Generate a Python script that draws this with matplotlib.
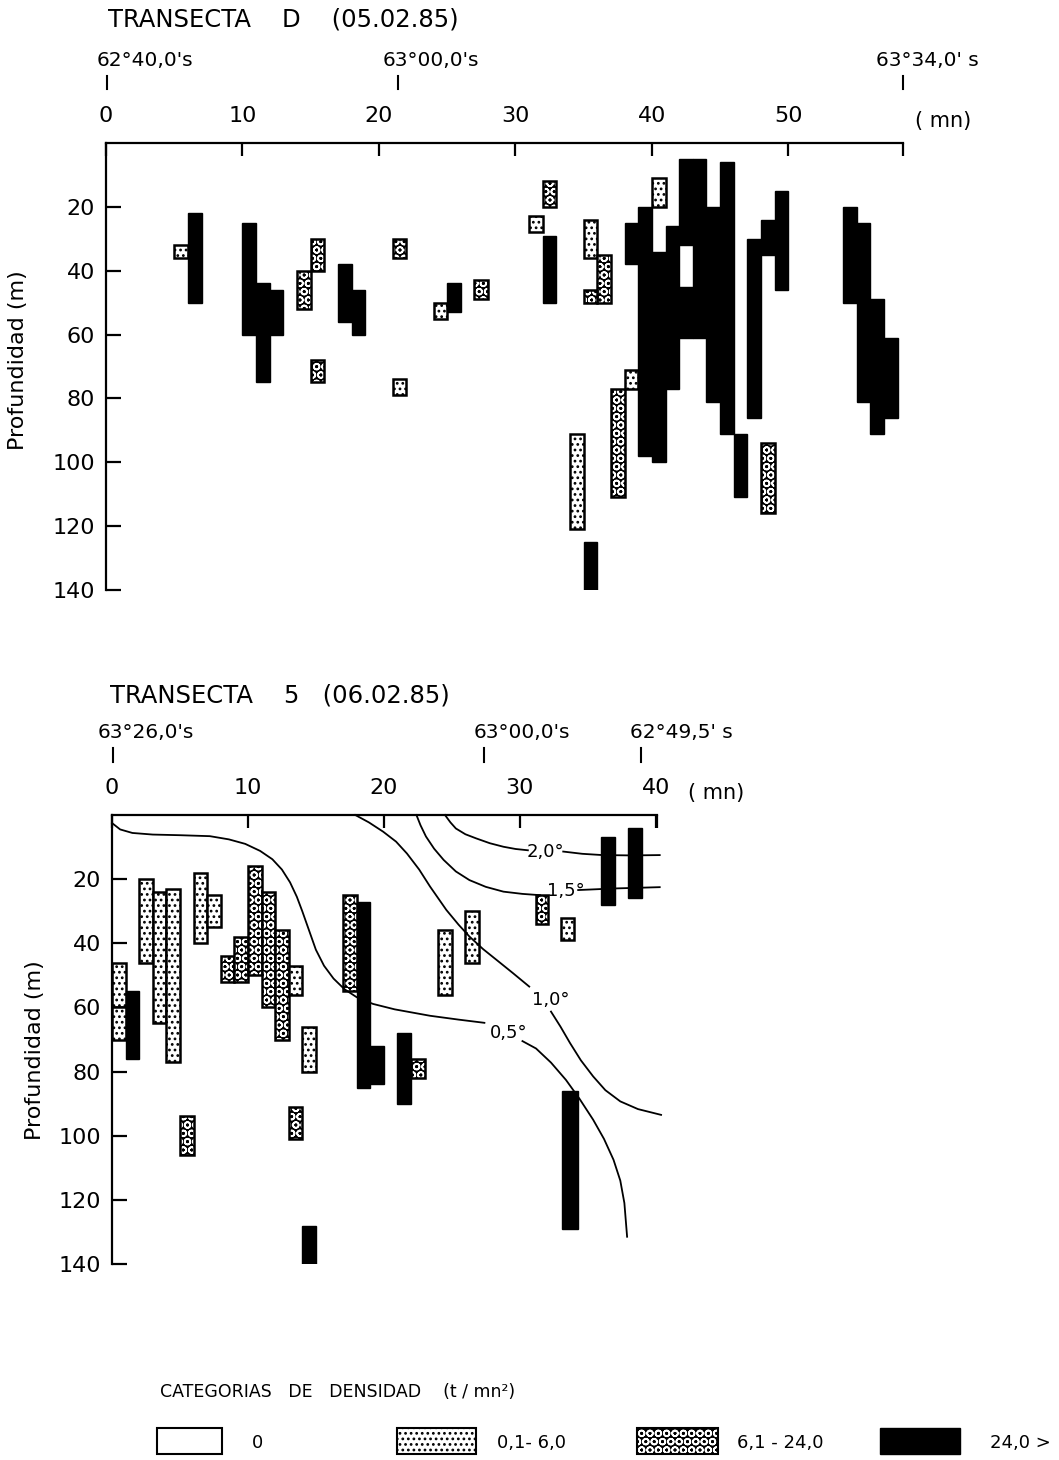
import matplotlib
matplotlib.use("Agg")
import matplotlib.pyplot as plt
import matplotlib.transforms as mtransforms
from matplotlib.patches import Rectangle

plt.rcParams["font.family"] = ["DejaVu Sans"]
plt.rcParams["hatch.linewidth"] = 1.2

W, H = 1059, 1460

# density categories: 0 -> "0", 1 -> "0,1-6,0", 2 -> "6,1-24,0", 3 -> "24,0 >"
cat_labels = ["0", "0,1- 6,0", "6,1 - 24,0", "24,0 >"]
depth_ticks = [20, 40, 60, 80, 100, 120, 140]

# ---- TRANSECTA D (05.02.85) ----
d_xticks = [0, 10, 20, 30, 40, 50]
d_xmax = 58.4
d_geo_pos = [0.05, 21.4, 58.4]
d_geo_lab = ["62°40,0's", "63°00,0's", "63°34,0' s"]
d_x0 = [5, 6, 10, 11, 12, 14, 15, 15, 17, 18, 21, 21, 24, 25, 27, 31, 32, 32,
        35, 36, 35, 34, 35, 37, 38, 38, 39, 40, 40, 41, 42, 42, 43, 44, 45, 46,
        47, 48, 49, 48, 54, 55, 56, 57]
d_x1 = [6, 7, 11, 12, 13, 15, 16, 16, 18, 19, 22, 22, 25, 26, 28, 32, 33, 33,
        36, 37, 36, 35, 36, 38, 39, 39, 40, 41, 41, 42, 43, 43, 44, 45, 46, 47,
        48, 49, 50, 49, 55, 56, 57, 58]
d_top = [32, 22, 25, 44, 46, 40, 30, 68, 38, 46, 30, 74, 50, 44, 43, 23, 12, 29,
         24, 35, 46, 91, 125, 77, 71, 25, 20, 11, 34, 26, 5, 45, 5, 20, 6, 91,
         30, 24, 15, 94, 20, 25, 49, 61]
d_bot = [36, 50, 60, 75, 60, 52, 40, 75, 56, 60, 36, 79, 55, 53, 49, 28, 20, 50,
         36, 50, 50, 121, 140, 111, 77, 38, 98, 20, 100, 77, 32, 61, 61, 81, 91,
         111, 86, 35, 46, 116, 50, 81, 91, 86]
d_cat = [1, 3, 3, 3, 3, 2, 2, 2, 3, 3, 2, 1, 1, 3, 2, 1, 2, 3,
         1, 2, 2, 1, 3, 2, 1, 3, 3, 1, 3, 3, 3, 3, 3, 3, 3, 3,
         3, 3, 3, 2, 3, 3, 3, 3]

# ---- TRANSECTA 5 (06.02.85) ----
t_xticks = [0, 10, 20, 30, 40]
t_xmax = 40.1
t_geo_pos = [0.05, 27.35, 38.9]
t_geo_lab = ["63°26,0's", "63°00,0's", "62°49,5' s"]
t_x0 = [0, 0, 1, 2, 3, 4, 6, 7, 8, 9, 10, 11, 12, 13, 14, 5, 13, 14,
        17, 18, 19, 21, 22, 24, 26, 31.2, 33, 36, 38, 33.1]
t_x1 = [1, 1, 2, 3, 4, 5, 7, 8, 9, 10, 11, 12, 13, 14, 15, 6, 14, 15,
        18, 19, 20, 22, 23, 25, 27, 32.1, 34, 37, 39, 34.3]
t_top = [46, 60, 55, 20, 24, 23, 18, 25, 44, 38, 16, 24, 36, 47, 66, 94, 91, 128,
         25, 27, 72, 68, 76, 36, 30, 25, 32, 7, 4, 86]
t_bot = [60, 70, 76, 46, 65, 77, 40, 35, 52, 52, 50, 60, 70, 56, 80, 106, 101, 140,
         55, 85, 84, 90, 82, 56, 46, 34, 39, 28, 26, 129]
t_cat = [1, 1, 3, 1, 1, 1, 1, 1, 2, 2, 2, 2, 2, 1, 1, 2, 2, 3,
         2, 3, 3, 3, 2, 1, 1, 2, 1, 3, 3, 3]

# isotherms (mn, depth), split where the label sits
iso_05_a_x = [0.0, 0.6, 1.5, 3.0, 5.0, 7.2, 8.6, 9.8, 10.9, 11.8, 12.5, 13.1, 13.6,
              14.0, 14.5, 15.0, 15.6, 16.3, 17.1, 18.0, 19.2, 20.8, 23.4, 25.5, 27.4]
iso_05_a_y = [2.5, 4.5, 5.6, 6.1, 6.3, 6.6, 7.6, 9.0, 11.2, 13.8, 17.0, 21.0, 25.5,
              30.0, 36.0, 42.0, 47.0, 51.0, 54.3, 56.8, 58.9, 60.6, 62.6, 63.8, 64.8]
iso_05_b_x = [30.2, 31.2, 32.3, 33.4, 34.4, 35.4, 36.2, 36.9, 37.4, 37.7, 37.9]
iso_05_b_y = [70.5, 72.8, 77.2, 82.6, 88.5, 95.0, 101.0, 107.5, 114.0, 121.0, 131.5]
iso_10_a_x = [17.9, 18.9, 19.95, 20.9, 21.7, 22.6, 23.4, 24.6, 25.5, 26.3, 27.3, 28.3, 29.5, 30.7]
iso_10_a_y = [0.0, 2.3, 5.2, 8.3, 12.0, 17.0, 22.3, 29.6, 34.2, 37.9, 41.8, 45.2, 49.3, 53.5]
iso_10_b_x = [32.3, 33.0, 33.7, 34.5, 35.4, 36.3, 37.4, 38.7, 40.4]
iso_10_b_y = [61.3, 66.0, 71.1, 76.5, 81.5, 85.8, 89.3, 91.7, 93.5]
iso_15_a_x = [22.4, 22.7, 23.1, 23.7, 24.4, 25.3, 26.3, 27.5, 28.8, 30.2, 31.5]
iso_15_a_y = [0.0, 3.2, 6.7, 10.5, 14.0, 17.6, 20.3, 22.4, 23.9, 24.6, 25.0]
iso_15_b_x = [34.3, 37.0, 40.3]
iso_15_b_y = [23.4, 22.9, 22.5]
iso_20_a_x = [24.5, 24.9, 25.3, 26.0, 26.8, 27.8, 28.8, 29.7, 30.6]
iso_20_a_y = [0.0, 2.3, 4.2, 6.0, 7.3, 8.8, 9.9, 10.6, 11.0]
iso_20_b_x = [33.2, 34.6, 36.1, 38.2, 40.3]
iso_20_b_y = [11.4, 12.1, 12.5, 12.6, 12.5]
iso_lab = ["0,5°", "1,0°", "1,5°", "2,0°"]
iso_lab_x = [29.2, 32.3, 33.4, 31.9]
iso_lab_y = [68.0, 57.7, 23.6, 11.4]


def draw_box(ax, x0, x1, top, bot, cat, lw=1.8):
    w, h = x1 - x0, bot - top
    if cat == 3:
        ax.add_patch(Rectangle((x0, top), w, h, facecolor="black",
                               edgecolor="black", lw=1.0, zorder=2))
    elif cat == 2:
        ax.add_patch(Rectangle((x0, top), w, h, facecolor="black",
                               edgecolor="white", hatch="OO", lw=0, zorder=2))
        ax.add_patch(Rectangle((x0, top), w, h, facecolor="none",
                               edgecolor="black", lw=lw, zorder=2))
    elif cat == 1:
        ax.add_patch(Rectangle((x0, top), w, h, facecolor="white",
                               edgecolor="black", hatch="...", lw=lw, zorder=2))
    else:
        ax.add_patch(Rectangle((x0, top), w, h, facecolor="white",
                               edgecolor="black", lw=lw, zorder=2))


def fx(px):
    return px / W


def fy(py):
    return 1 - py / H


def setup_axes(ax, xticks, xmax):
    ax.set_xlim(0, xmax)
    ax.set_ylim(140, 0)
    ax.spines[["right", "bottom"]].set_visible(False)
    ax.spines[["left", "top"]].set_linewidth(1.6)
    ax.xaxis.tick_top()
    ax.set_xticks(xticks)
    ax.set_xticks([xmax], minor=True)
    ax.set_yticks(depth_ticks)
    ax.tick_params(axis="x", which="both", direction="in", length=9, width=1.6,
                   pad=12, labelsize=16)
    ax.tick_params(axis="y", direction="in", length=11, width=1.6,
                   pad=8, labelsize=16)
    ax.patch.set_alpha(0)


def geo_marks(fig, ax, pos, labs, offs, py_txt, py_t0, py_t1):
    blend = mtransforms.blended_transform_factory(ax.transData, fig.transFigure)
    for p, lab, off in zip(pos, labs, offs):
        ax.plot([p, p], [fy(py_t0), fy(py_t1)], color="black", lw=1.5,
                transform=blend, clip_on=False)
        tr = blend + mtransforms.ScaledTranslation(off / 100, 0, fig.dpi_scale_trans)
        ax.text(p, fy(py_txt), lab, transform=tr, ha="left", va="center",
                fontsize=14.5)


fig = plt.figure(figsize=(W / 100, H / 100), dpi=100)

# top panel
ax1 = fig.add_axes([fx(106), fy(590), fx(903) - fx(106), fy(143) - fy(590)])
setup_axes(ax1, d_xticks, d_xmax)
for x0, x1, t, b, c in zip(d_x0, d_x1, d_top, d_bot, d_cat):
    draw_box(ax1, x0, x1, t, b, c)
geo_marks(fig, ax1, d_geo_pos, d_geo_lab, [-10, -15, -27], 60, 76, 89)

# bottom panel
ax2 = fig.add_axes([fx(112), fy(1264), fx(657) - fx(112), fy(815) - fy(1264)])
setup_axes(ax2, t_xticks, t_xmax)
for x0, x1, t, b, c in zip(t_x0, t_x1, t_top, t_bot, t_cat):
    draw_box(ax2, x0, x1, t, b, c)
for xs, ys in [(iso_05_a_x, iso_05_a_y), (iso_05_b_x, iso_05_b_y),
               (iso_10_a_x, iso_10_a_y), (iso_10_b_x, iso_10_b_y),
               (iso_15_a_x, iso_15_a_y), (iso_15_b_x, iso_15_b_y),
               (iso_20_a_x, iso_20_a_y), (iso_20_b_x, iso_20_b_y)]:
    ax2.plot(xs, ys, color="black", lw=1.3, zorder=3, clip_on=False)
for lab, x, y in zip(iso_lab, iso_lab_x, iso_lab_y):
    ax2.text(x, y, lab, ha="center", va="center", fontsize=13, zorder=4)
geo_marks(fig, ax2, t_geo_pos, t_geo_lab, [-15, -10, -11], 733, 748, 762)

# texts and legend in pixel coordinates
ov = fig.add_axes([0, 0, 1, 1])
ov.set_xlim(0, W)
ov.set_ylim(H, 0)
ov.axis("off")

ov.text(108, 20, "TRANSECTA    D    (05.02.85)", fontsize=17.5, va="center", ha="left")
ov.text(110, 695, "TRANSECTA    5   (06.02.85)", fontsize=17.5, va="center", ha="left")
ov.text(915, 121, "( mn)", fontsize=15, va="center", ha="left")
ov.text(688, 793, "( mn)", fontsize=15, va="center", ha="left")
ov.text(18, 360, "Profundidad (m)", fontsize=16, rotation=90, va="center", ha="center")
ov.text(35, 1050, "Profundidad (m)", fontsize=16, rotation=90, va="center", ha="center")

ov.text(160, 1392, "CATEGORIAS   DE   DENSIDAD    (t / mn²)", fontsize=12.5,
        va="center", ha="left")
leg_box_x0 = [157, 397, 637, 880]
leg_box_x1 = [222, 476, 718, 960]
leg_txt_x = [252, 497, 737, 990]
for i, lab in enumerate(cat_labels):
    draw_box(ov, leg_box_x0[i], leg_box_x1[i], 1428, 1454, i, lw=1.5)
    ov.text(leg_txt_x[i], 1443, lab, fontsize=13, va="center", ha="left")

fig.savefig("out.png", dpi=100)
